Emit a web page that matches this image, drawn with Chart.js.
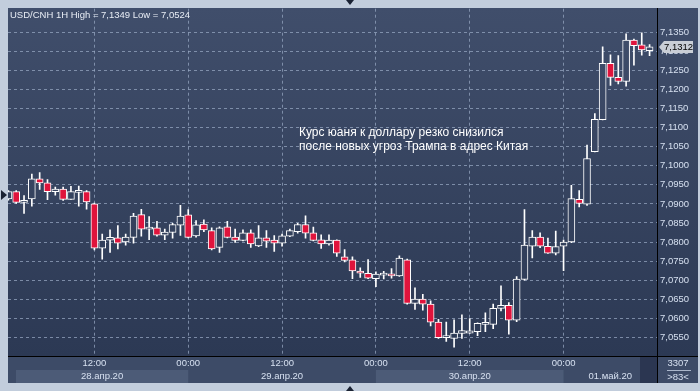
<!DOCTYPE html>
<html>
<head>
<meta charset="utf-8">
<script src="https://cdn.jsdelivr.net/npm/chart.js@4.4.0/dist/chart.umd.min.js"></script>
<style>
  html, body { margin: 0; padding: 0; background: #c2cddc; }
</style>
</head>
<body>
<canvas id="myChart" width="700" height="391"></canvas>
<script>
// hourly candles, hour 1 = 28.04 01:00
const hours = [1, 2, 3, 4, 5, 6, 7, 8, 9, 10, 11, 12, 13, 14, 15, 16, 17, 18, 19, 20,
  21, 22, 23, 24, 25, 26, 27, 28, 29, 30, 31, 32, 33, 34, 35, 36, 37, 38, 39, 40,
  41, 42, 43, 44, 45, 46, 47, 48, 49, 50, 51, 52, 53, 54, 55, 56, 57, 58, 59, 60,
  61, 62, 63, 64, 65, 66, 67, 68, 69, 70, 71, 72, 73, 74, 75, 76, 77, 78, 79, 80,
  81, 82, 83];
const openP = [7.0913, 7.0932, 7.0904, 7.0913, 7.0966, 7.0955, 7.0932, 7.0939, 7.0912, 7.0930,
  7.0932, 7.0900, 7.0784, 7.0805, 7.0811, 7.0800, 7.0812, 7.0872, 7.0834, 7.0837,
  7.0818, 7.0825, 7.0844, 7.0871, 7.0816, 7.0847, 7.0830, 7.0786, 7.0840, 7.0813,
  7.0804, 7.0824, 7.0790, 7.0811, 7.0805, 7.0797, 7.0815, 7.0827, 7.0846, 7.0824,
  7.0806, 7.0795, 7.0805, 7.0761, 7.0753, 7.0724, 7.0718, 7.0704, 7.0713, 7.0716,
  7.0711, 7.0753, 7.0639, 7.0650, 7.0637, 7.0590, 7.0549, 7.0547, 7.0560, 7.0561,
  7.0565, 7.0584, 7.0584, 7.0626, 7.0634, 7.0595, 7.0702, 7.0789, 7.0813, 7.0789,
  7.0771, 7.0789, 7.0800, 7.0912, 7.0899, 7.1037, 7.1121, 7.1269, 7.1232, 7.1221,
  7.1330, 7.1317, 7.1302];
const highP = [7.0935, 7.0935, 7.0922, 7.0978, 7.0982, 7.0964, 7.0944, 7.0944, 7.0946, 7.0947,
  7.0935, 7.0902, 7.0821, 7.0832, 7.0843, 7.0821, 7.0875, 7.0886, 7.0867, 7.0854,
  7.0834, 7.0849, 7.0896, 7.0885, 7.0856, 7.0858, 7.0837, 7.0840, 7.0854, 7.0834,
  7.0832, 7.0832, 7.0843, 7.0830, 7.0817, 7.0821, 7.0834, 7.0849, 7.0869, 7.0839,
  7.0819, 7.0819, 7.0806, 7.0780, 7.0761, 7.0732, 7.0754, 7.0722, 7.0723, 7.0730,
  7.0764, 7.0755, 7.0680, 7.0663, 7.0646, 7.0597, 7.0590, 7.0596, 7.0609, 7.0599,
  7.0588, 7.0614, 7.0637, 7.0685, 7.0641, 7.0709, 7.0885, 7.0830, 7.0824, 7.0810,
  7.0829, 7.0805, 7.0949, 7.0935, 7.1054, 7.1137, 7.1312, 7.1291, 7.1289, 7.1346,
  7.1332, 7.1349, 7.1318];
const lowP = [7.0910, 7.0901, 7.0875, 7.0894, 7.0938, 7.0911, 7.0923, 7.0909, 7.0912, 7.0894,
  7.0886, 7.0779, 7.0755, 7.0773, 7.0782, 7.0792, 7.0797, 7.0815, 7.0806, 7.0815,
  7.0806, 7.0810, 7.0817, 7.0811, 7.0813, 7.0827, 7.0779, 7.0773, 7.0811, 7.0799,
  7.0803, 7.0786, 7.0788, 7.0786, 7.0775, 7.0789, 7.0814, 7.0823, 7.0810, 7.0803,
  7.0783, 7.0792, 7.0762, 7.0748, 7.0704, 7.0707, 7.0704, 7.0683, 7.0703, 7.0705,
  7.0710, 7.0637, 7.0623, 7.0621, 7.0580, 7.0547, 7.0539, 7.0524, 7.0547, 7.0560,
  7.0554, 7.0565, 7.0573, 7.0619, 7.0558, 7.0591, 7.0700, 7.0758, 7.0785, 7.0770,
  7.0766, 7.0725, 7.0798, 7.0892, 7.0896, 7.1036, 7.1120, 7.1211, 7.1215, 7.1209,
  7.1264, 7.1290, 7.1289];
const closeP = [7.0932, 7.0904, 7.0906, 7.0966, 7.0955, 7.0932, 7.0939, 7.0912, 7.0932, 7.0931,
  7.0905, 7.0784, 7.0805, 7.0812, 7.0797, 7.0813, 7.0868, 7.0834, 7.0835, 7.0818,
  7.0826, 7.0846, 7.0868, 7.0812, 7.0845, 7.0832, 7.0782, 7.0837, 7.0812, 7.0804,
  7.0824, 7.0795, 7.0811, 7.0802, 7.0797, 7.0816, 7.0830, 7.0846, 7.0823, 7.0804,
  7.0795, 7.0805, 7.0771, 7.0752, 7.0724, 7.0718, 7.0705, 7.0716, 7.0715, 7.0711,
  7.0758, 7.0639, 7.0650, 7.0637, 7.0590, 7.0549, 7.0551, 7.0561, 7.0568, 7.0567,
  7.0587, 7.0586, 7.0626, 7.0634, 7.0595, 7.0703, 7.0792, 7.0813, 7.0789, 7.0771,
  7.0788, 7.0800, 7.0914, 7.0901, 7.1019, 7.1122, 7.1269, 7.1232, 7.1221, 7.1330,
  7.1315, 7.1304, 7.1312];

const yTicks = [7.055, 7.060, 7.065, 7.070, 7.075, 7.080, 7.085, 7.090, 7.095, 7.100,
  7.105, 7.110, 7.115, 7.120, 7.125, 7.130, 7.135];
const xTickHours = [12, 24, 36, 48, 60, 72];
const xTickLabels = ["12:00", "00:00", "12:00", "00:00", "12:00", "00:00"];
const dayStarts = [0, 24, 48, 72];
const dayEnds = [24, 48, 72, 84];
const dayLabels = ["28.апр.20", "29.апр.20", "30.апр.20", "01.май.20"];

const titleText = "USD/CNH 1H High = 7,1349 Low = 7,0524";
const noteLines = ["Курс юаня к доллару резко снизился", "после новых угроз Трампа в адрес Китая"];
const lastPrice = 7.1312;

const RED = "#e0143c";
const FONT = '"Liberation Sans", Arial, sans-serif';

const bgGrad = (c) => {
  const g = c.createLinearGradient(0, 8, 0, 356);
  g.addColorStop(0, "#404e6b");
  g.addColorStop(1, "#2c3954");
  return g;
};

const fmt = (v) => v.toFixed(4).replace(".", ",");

const frame = {
  id: "frame",
  beforeDraw(chart) {
    const c = chart.ctx;
    const a = chart.chartArea;
    const x = chart.scales.x;
    c.save();
    c.fillStyle = "#c2cddc";
    c.fillRect(0, 0, 700, 391);
    c.fillStyle = bgGrad(c);
    c.fillRect(8, 8, 690, a.bottom - 8);
    // bottom strip
    c.fillStyle = "#3d4b67";
    c.fillRect(8, a.bottom, 690, 383 - a.bottom);
    c.fillStyle = "#4c5b77";
    for (let i = 0; i < dayStarts.length; i += 2) {
      const x0 = Math.max(x.getPixelForValue(dayStarts[i]), 16);
      const x1 = Math.min(x.getPixelForValue(dayEnds[i]), a.right);
      c.fillRect(x0, 370, x1 - x0, 13);
    }
    c.fillStyle = "#2b3651";
    c.fillRect(640, a.bottom + 1, a.right - 640, 383 - a.bottom - 1);
    c.restore();
  },
  afterDraw(chart) {
    const c = chart.ctx;
    const a = chart.chartArea;
    const x = chart.scales.x;
    const y = chart.scales.y;
    c.save();
    // black separators
    c.strokeStyle = "#000";
    c.lineWidth = 1;
    c.beginPath();
    c.moveTo(a.right + 0.5, 8);
    c.lineTo(a.right + 0.5, 383);
    c.moveTo(8, a.bottom + 0.5);
    c.lineTo(698, a.bottom + 0.5);
    c.stroke();

    // title
    c.fillStyle = "#e8edf5";
    c.font = "9.5px " + FONT;
    c.textBaseline = "alphabetic";
    c.textAlign = "left";
    c.fillText(titleText, 10, 18);

    // note
    c.fillStyle = "#ffffff";
    c.font = "12px " + FONT;
    c.fillText(noteLines[0], 299, 136);
    c.fillText(noteLines[1], 299, 150);

    // day labels
    c.fillStyle = "#d6e0f0";
    c.font = "9.5px " + FONT;
    c.textAlign = "center";
    c.textBaseline = "middle";
    for (let i = 0; i < dayLabels.length; i++) {
      const x0 = Math.max(x.getPixelForValue(dayStarts[i]), 16);
      const x1 = Math.min(x.getPixelForValue(dayEnds[i]), a.right);
      c.fillText(dayLabels[i], (x0 + x1) / 2, 376);
    }

    // bottom-right counter box
    c.fillText("3307", 678, 363);
    c.fillText(">83<", 678, 377);
    c.strokeStyle = "#aab6ca";
    c.beginPath();
    c.moveTo(667, 370.5);
    c.lineTo(691, 370.5);
    c.stroke();

    // last price tag
    const py = Math.round(y.getPixelForValue(lastPrice));
    c.fillStyle = "#c9ced6";
    c.beginPath();
    c.moveTo(659, py);
    c.lineTo(664, py - 6);
    c.lineTo(693, py - 6);
    c.lineTo(693, py + 6);
    c.lineTo(664, py + 6);
    c.closePath();
    c.fill();
    c.fillStyle = "#000";
    c.textAlign = "left";
    c.fillText(fmt(lastPrice), 664, py + 0.5);

    // small markers
    c.fillStyle = "#1a2233";
    c.beginPath();
    c.moveTo(1, 190); c.lineTo(7, 195); c.lineTo(1, 200); c.closePath();
    c.fill();
    c.beginPath();
    c.moveTo(346, 0); c.lineTo(354, 0); c.lineTo(350, 5); c.closePath();
    c.fill();
    c.beginPath();
    c.moveTo(346, 391); c.lineTo(354, 391); c.lineTo(350, 386); c.closePath();
    c.fill();
    c.restore();
  }
};

const bodies = hours.map((h, i) => ({ x: h, y: [openP[i], closeP[i]] }));
const wicks = hours.map((h, i) => ({ x: h, y: [lowP[i], highP[i]] }));

new Chart(document.getElementById("myChart"), {
  type: "bar",
  data: {
    datasets: [
      {
        label: "body",
        data: bodies,
        grouped: false,
        barThickness: 7,
        minBarLength: 2,
        borderWidth: 1,
        borderSkipped: false,
        borderColor: "#ffffff",
        backgroundColor: (ctx) =>
          closeP[ctx.dataIndex] < openP[ctx.dataIndex] ? RED : bgGrad(ctx.chart.ctx),
      },
      {
        label: "wick",
        data: wicks,
        grouped: false,
        barThickness: 1,
        borderWidth: 0,
        backgroundColor: "#ffffff",
      },
    ],
  },
  options: {
    responsive: false,
    animation: false,
    events: [],
    layout: { padding: { left: 8, top: 8, right: 2, bottom: 8 } },
    plugins: { legend: { display: false }, tooltip: { enabled: false } },
    scales: {
      x: {
        type: "linear",
        offset: false,
        min: 0.95,
        max: 83.95,
        afterBuildTicks: (s) => { s.ticks = xTickHours.map((v) => ({ value: v })); },
        afterFit: (s) => { s.height = 27; },
        grid: { offset: false, color: "rgba(150,165,192,0.75)", drawTicks: false },
        border: { display: false, dash: [3, 3] },
        ticks: {
          padding: 2,
          maxRotation: 0,
          autoSkip: false,
          color: "#d6e0f0",
          font: { family: FONT, size: 9.5 },
          callback: (v, i) => xTickLabels[i],
        },
      },
      y: {
        position: "right",
        min: 7.0501,
        max: 7.1412,
        afterBuildTicks: (s) => { s.ticks = yTicks.map((v) => ({ value: v })); },
        afterFit: (s) => { s.width = 41; },
        grid: { color: "rgba(150,165,192,0.75)", drawTicks: false },
        border: { display: false, dash: [3, 3] },
        ticks: {
          padding: 3,
          color: "#d6e0f0",
          font: { family: FONT, size: 9.5 },
          callback: (v) => fmt(v),
        },
      },
    },
  },
  plugins: [frame],
});
</script>
</body>
</html>
